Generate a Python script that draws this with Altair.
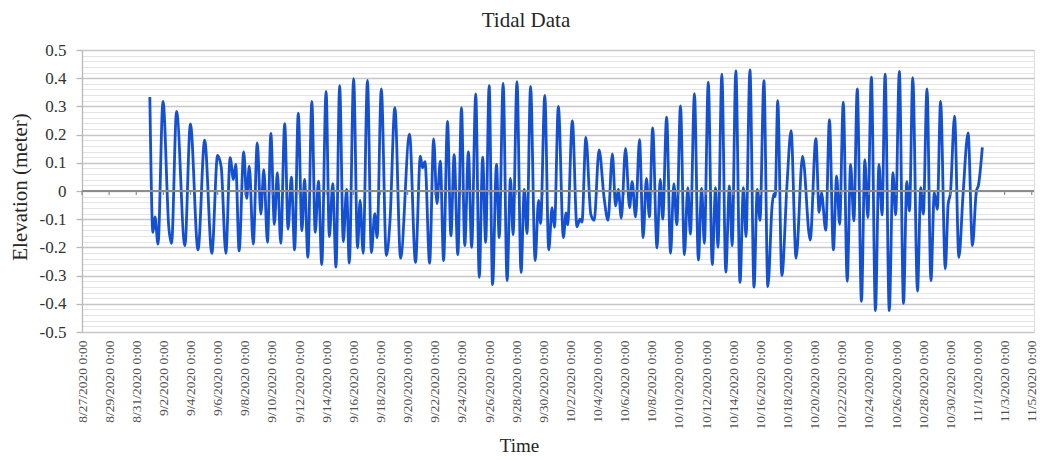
import altair as alt
import pandas as pd

# Extrema: days after 9/1/2020 0:00 and elevation (m)
DAYS = [
    0.00, 0.23, 0.38, 0.60, 0.97, 1.40, 1.60, 1.97, 2.58, 2.99, 3.55, 4.04, 4.57,
    4.99, 5.26, 5.60, 5.92, 6.16, 6.33, 6.58, 6.92, 7.14, 7.33, 7.62, 7.92, 8.18,
    8.40, 8.67, 8.92, 9.18, 9.40, 9.65, 9.94, 10.19, 10.43, 10.67, 10.94, 11.21,
    11.40, 11.65,
    11.94, 12.19, 12.43, 12.67, 12.99, 13.23, 13.48, 13.72, 13.99, 14.26, 14.50,
    14.70, 15.02, 15.31, 15.50, 15.72, 16.04, 16.33, 16.58, 16.75, 17.06, 17.43,
    17.70, 18.06, 18.48, 19.14, 19.58, 19.94, 20.09, 20.28, 20.62, 20.92, 21.16,
    21.41, 21.65, 21.94, 22.19, 22.43, 22.70, 22.97, 23.21, 23.48, 23.72, 24.02,
    24.28, 24.53,
    24.75, 25.01, 25.26, 25.55, 25.75, 26.04, 26.33, 26.58, 26.77, 27.06, 27.36,
    27.60, 27.80, 28.06, 28.40, 28.65, 28.80, 29.11, 29.40, 29.65, 29.82, 30.11,
    30.48, 30.68, 30.79, 31.14, 31.48, 31.70, 31.85, 32.14, 32.50, 32.75, 33.11,
    33.48, 33.77, 34.09, 34.33, 34.53, 34.75, 35.06, 35.36, 35.55, 35.80, 36.09,
    36.36, 36.60, 36.82, 37.06,
    37.38, 37.62, 37.80, 38.09, 38.38, 38.62, 38.84, 39.11, 39.40, 39.65, 39.84,
    40.14, 40.43, 40.67, 40.87, 41.16, 41.45, 41.70, 41.87, 42.16, 42.45, 42.72,
    42.92, 43.19, 43.50, 43.75, 43.94, 44.23, 44.53, 44.77, 44.97, 45.26, 45.55,
    45.87, 45.99, 46.09, 46.28, 46.58, 46.97, 47.26, 47.63, 48.11, 48.67, 49.09,
    49.33, 49.50, 49.82, 50.09, 50.38, 50.62, 50.84, 51.11, 51.40, 51.65, 51.89,
    52.14, 52.45, 52.70, 52.92, 53.18, 53.48, 53.74, 53.97, 54.19, 54.50, 54.77,
    54.97, 55.24, 55.55, 55.79, 55.99, 56.23, 56.58, 56.82, 57.01, 57.28, 57.57,
    57.82, 58.04, 58.28, 58.63, 58.84, 59.01, 59.31, 59.63, 59.94, 60.31, 60.63,
    60.92, 61.07, 61.36,
]
ELEV = [
    0.333, -0.147, -0.092, -0.188, 0.318, -0.130, -0.186, 0.282, -0.194, 0.238,
    -0.209, 0.180, -0.221, 0.126, 0.085, -0.221, 0.118, 0.041, 0.094, -0.212,
    0.139, -0.026, 0.088, -0.188, 0.171, -0.082, 0.076, -0.182, 0.204, -0.118,
    0.065, -0.186, 0.239, -0.135, 0.049, -0.209, 0.276, -0.141, 0.041, -0.235,
    0.318, -0.147, 0.035, -0.261, 0.353, -0.162, 0.026, -0.270, 0.374, -0.179,
    0.006, -0.256, 0.398, -0.202, -0.033, -0.221, 0.392, -0.218, -0.080, -0.165,
    0.362, -0.229, -0.106, 0.296, -0.238, 0.202, -0.253, 0.124, 0.082, 0.104,
    -0.256, 0.185, -0.045, 0.106, -0.247, 0.247, -0.159, 0.129, -0.226, 0.296,
    -0.194, 0.139, -0.200, 0.344, -0.306, 0.120,
    -0.182, 0.374, -0.332, 0.094, -0.165, 0.382, -0.318, 0.045, -0.155, 0.388,
    -0.289, 0.006, -0.151, 0.371, -0.247, -0.033, -0.115, 0.339, -0.209, -0.059,
    -0.129, 0.300, -0.165, -0.078, -0.120, 0.249, -0.127, -0.100, -0.110, 0.190,
    -0.082, -0.104, 0.146, -0.024, -0.104, 0.132, -0.053, 0.006, -0.096, 0.151,
    -0.059, 0.033, -0.092, 0.182, -0.165, 0.045, -0.092, 0.224,
    -0.202, 0.041, -0.100, 0.262, -0.221, 0.026, -0.120, 0.302, -0.226, 0.012,
    -0.153, 0.345, -0.245, 0.009, -0.186, 0.386, -0.261, 0.012, -0.200, 0.414,
    -0.288, 0.018, -0.194, 0.426, -0.324, 0.012, -0.162, 0.429, -0.341, 0.006,
    -0.104, 0.391, -0.339, -0.047, -0.010, -0.020, 0.320, -0.300, 0.030, 0.214,
    -0.238, 0.124, -0.174, 0.186,
    -0.076, -0.006, -0.139, 0.253, -0.209, 0.053, -0.118, 0.315, -0.320, 0.094,
    -0.106, 0.362, -0.391, 0.111, -0.094, 0.404, -0.424, 0.094, -0.085, 0.414,
    -0.424, 0.065, -0.085, 0.424, -0.398, 0.033, -0.071, 0.402, -0.355, 0.012,
    -0.082, 0.362, -0.318, -0.006, -0.065, 0.318, -0.276, -0.047, -0.006, 0.265,
    -0.235, -0.010, 0.206, -0.194, 0.000, 0.020, 0.155,
]

# x-axis tick labels: every 2 days, 8/27/2020 .. 11/5/2020
TICK_DATES = pd.date_range("2020-08-27", "2020-11-05", freq="2D", tz="UTC")

TITLE = ["Tidal Data"]

FONT = "Liberation Serif"
BASE = pd.Timestamp("2020-09-01T00:00:00Z")

df = pd.DataFrame({
    "time": [(BASE + pd.Timedelta(days=d)).strftime("%Y-%m-%dT%H:%M:%SZ") for d in DAYS],
    "elev": ELEV,
})
ticks_df = pd.DataFrame({"time": [t.strftime("%Y-%m-%dT%H:%M:%SZ") for t in TICK_DATES]})
title_df = pd.DataFrame({"label": TITLE})

def ms(ts):
    return int(pd.Timestamp(ts).value // 10**6)

x_domain = [ms("2020-08-27T00:00:00Z"), ms("2020-11-05T04:00:00Z")]
tick_ms = [int(t.value // 10**6) for t in TICK_DATES]
y_vals = [round(-0.5 + 0.02 * i, 2) for i in range(51)]
major_test = "abs(datum.value*10 - round(datum.value*10)) < 0.01"

x_scale = alt.Scale(type="utc", domain=x_domain, nice=False)
y_scale = alt.Scale(domain=[-0.5, 0.5], nice=False, zero=False)

x_axis = alt.Axis(
    values=tick_ms, labelExpr="utcFormat(datum.value, '%-m/%-d/%Y %-H:%M')",
    labelAngle=270, domain=False, ticks=False, tickSize=0, grid=False,
    labelPadding=8, labelFontSize=13.5, labelFont=FONT, labelColor="#505050",
    labelOverlap=False, labelFlush=False,
    title="Time", titleFont=FONT, titleFontSize=19, titleFontWeight="normal",
    titleColor="#262626", titleX=437, titleY=119, titleAlign="center",
    titleBaseline="alphabetic", titleAngle=0,
)
y_axis = alt.Axis(
    values=y_vals, grid=True,
    gridColor={"condition": {"test": major_test, "value": "#c6c6c6"}, "value": "#e4e4e4"},
    gridWidth={"condition": {"test": major_test, "value": 1.5}, "value": 1},
    tickColor={"condition": {"test": major_test, "value": "#b8b8b8"}, "value": "transparent"},
    tickSize=6, tickWidth=1.3,
    domainColor="#b8b8b8", domainWidth=1.3,
    labelExpr=(
        "abs(datum.value*10 - round(datum.value*10)) > 0.01 ? '' : "
        "(abs(datum.value) < 0.001 ? '0' : (datum.value < 0 ? '-' : '') + format(abs(datum.value), '.1f'))"
    ),
    labelOverlap=False, labelPadding=10, labelFontSize=17, labelFont=FONT,
    labelColor="#333333",
    title="Elevation (meter)", titleFont=FONT, titleFontSize=21,
    titleFontWeight="normal", titleColor="#262626",
    titleX=-62, titleY=136.5, titleAngle=270, titleAlign="center",
    titleBaseline="middle",
)

line = alt.Chart(df).mark_line(
    color="#1450d2", strokeWidth=2.8, interpolate="monotone"
).encode(
    x=alt.X("time:T", scale=x_scale, axis=x_axis),
    y=alt.Y("elev:Q", scale=y_scale, axis=y_axis),
)

zero_line = alt.Chart(df).mark_rule(color="#8c8c8c", strokeWidth=1.4).encode(
    y=alt.Y(datum=0, scale=y_scale, axis=y_axis),
)

zero_ticks = alt.Chart(ticks_df).mark_rule(color="#8c8c8c", strokeWidth=1.2, y2Offset=4).encode(
    x=alt.X("time:T", scale=x_scale, axis=x_axis),
    y=alt.Y(datum=0, scale=y_scale, axis=y_axis),
    y2=alt.Y2(datum=0),
)

title_text = alt.Chart(title_df).mark_text(
    font=FONT, fontSize=21, color="#262626", align="center", baseline="alphabetic"
).encode(
    text="label:N",
    x=alt.value(444),
    y=alt.value(-23),
)

chart = alt.layer(line, zero_line, zero_ticks, title_text).properties(
    width=952,
    height=282,
    padding={"left": 74, "top": 42, "right": 6, "bottom": 125},
    autosize=alt.AutoSizeParams(type="none"),
).configure_view(strokeWidth=0).configure(background="white")

chart.save("out.html", embed_options={"renderer": "svg", "actions": False})
